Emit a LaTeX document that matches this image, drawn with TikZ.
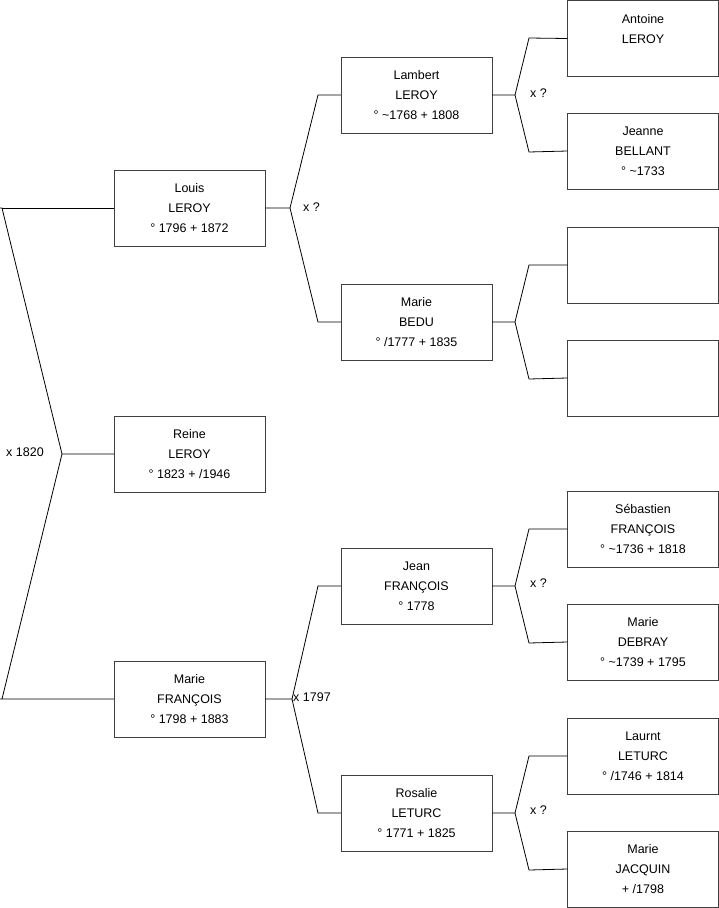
\documentclass[tikz,border=0pt]{standalone}
\usepackage{fontspec}
\setmainfont{Liberation Sans}
\begin{document}
\begin{tikzpicture}[x=1pt, y=-1pt,
  person/.style={draw=black!75, rectangle, minimum width=151pt, minimum height=76pt, inner sep=0pt, align=center, font={\fontsize{12.5}{20}\selectfont}},
  union/.style={font={\fontsize{12.5}{15}\selectfont}, inner sep=0pt},
  link/.style={black, line width=0.8pt}]
\useasboundingbox (0,0) rectangle (719,908);
% Generation 1
\node[person] (louis) at (189.5,208) {Louis\\LEROY\\° 1796 + 1872};
\node[person] (reine) at (189.5,454) {Reine\\LEROY\\° 1823 + /1946};
\node[person] (mariefr) at (189.5,699) {Marie\\FRANÇOIS\\° 1798 + 1883};

% Generation 2
\node[person] (lambert) at (416.5,95) {Lambert\\LEROY\\° \textasciitilde1768 + 1808};
\node[person] (bedu) at (416.5,322) {Marie\\BEDU\\° /1777 + 1835};
\node[person] (jean) at (416.5,586) {Jean\\FRANÇOIS\\° 1778};
\node[person] (rosalie) at (416.5,813) {Rosalie\\LETURC\\° 1771 + 1825};

% Generation 3
\node[person] (antoine) at (643,38.5) {Antoine\\LEROY\\~};
\node[person] (jeanne) at (643,151) {Jeanne\\BELLANT\\° \textasciitilde1733};
\node[person] (emptya) at (643,265) {};
\node[person] (emptyb) at (643,378) {};
\node[person] (sebastien) at (643,529) {Sébastien\\FRANÇOIS\\° \textasciitilde1736 + 1818};
\node[person] (debray) at (643,642) {Marie\\DEBRAY\\° \textasciitilde1739 + 1795};
\node[person] (laurnt) at (643,756) {Laurnt\\LETURC\\° /1746 + 1814};
\node[person] (jacquin) at (643,869) {Marie\\JACQUIN\\+ /1798};

% Fork points
\coordinate (k0) at (62,454);
\coordinate (k0u) at (2,208);
\coordinate (k0d) at (2,699);
\coordinate (k1) at (290,208);
\coordinate (k1u) at (318,95);
\coordinate (k1d) at (318,322);
\coordinate (k2) at (292,699);
\coordinate (k2u) at (318,586);
\coordinate (k2d) at (318,813);
\foreach \n/\y in {k3/95, k4/322, k5/586, k6/813}{
  \coordinate (\n) at (515,\y);
  \coordinate (\n u) at (529,\y-57);
  \coordinate (\n d) at (529,\y+57);
}

% Links
\draw[link] (reine.west) -- (k0) -- (k0u) -- (louis.west -| 0,0);
\draw[link] (k0u) -- (louis.west);
\draw[link] (k0) -- (k0d) -- (0,699) (k0d) -- (mariefr.west);
\draw[link] (louis.east) -- (k1) -- (k1u) -- (lambert.west);
\draw[link] (k1) -- (k1d) -- (bedu.west);
\draw[link] (mariefr.east) -- (k2) -- (k2u) -- (jean.west);
\draw[link] (k2) -- (k2d) -- (rosalie.west);
\draw[link] (lambert.east) -- (k3) -- (k3u) -- (antoine.west);
\draw[link] (k3) -- (k3d) -- (jeanne.west);
\draw[link] (bedu.east) -- (k4) -- (k4u) -- (emptya.west);
\draw[link] (k4) -- (k4d) -- (emptyb.west);
\draw[link] (jean.east) -- (k5) -- (k5u) -- (sebastien.west);
\draw[link] (k5) -- (k5d) -- (debray.west);
\draw[link] (rosalie.east) -- (k6) -- (k6u) -- (laurnt.west);
\draw[link] (k6) -- (k6d) -- (jacquin.west);

% Unions
\node[union, anchor=west] (u0) at (6,452) {x 1820};
\node[union, anchor=west] (u1) at (303,207) {x ?};
\node[union, anchor=west] (u2) at (293,697) {x 1797};
\node[union, anchor=west] (u3) at (530,93) {x ?};
\node[union, anchor=west] (u5) at (530,583) {x ?};
\node[union, anchor=west] (u6) at (530,810) {x ?};
\end{tikzpicture}
\end{document}
